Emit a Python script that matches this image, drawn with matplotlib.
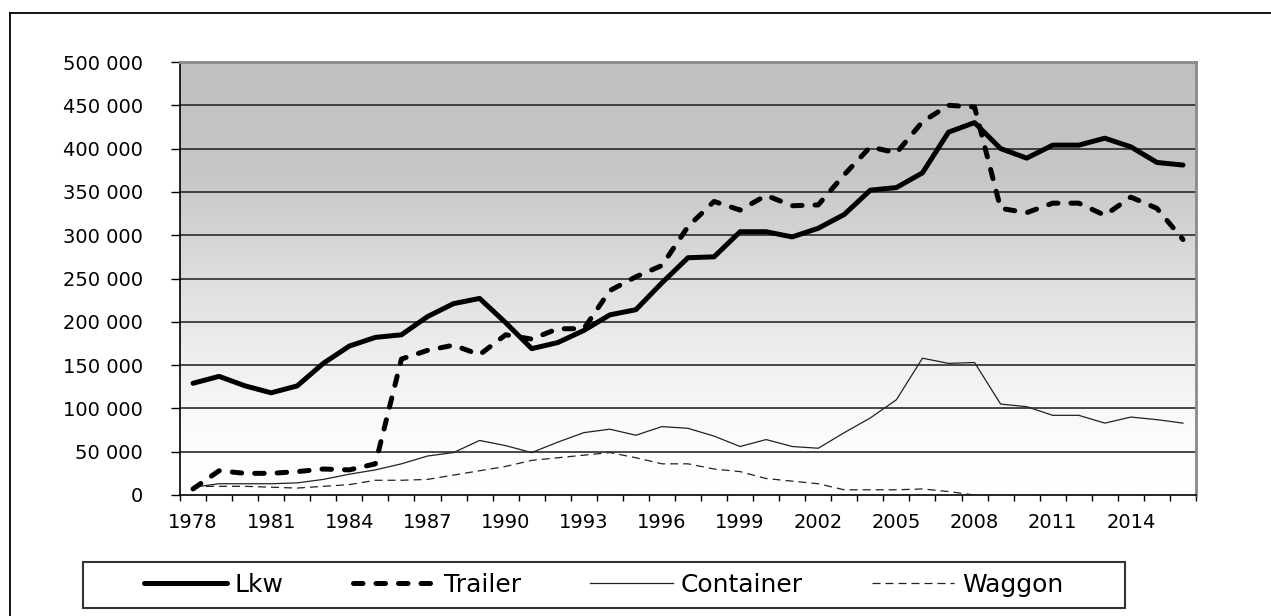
import numpy as np
import matplotlib
matplotlib.use("Agg")
import matplotlib.pyplot as plt
from matplotlib.lines import Line2D
from matplotlib.patches import Rectangle
from matplotlib.colors import LinearSegmentedColormap

# Data (values in units)
years = list(range(1978, 2017))
lkw = [129, 137, 126, 118, 126, 152, 172, 182, 185, 206, 221, 227, 199, 169, 176, 190, 208, 214, 245, 274,
       275, 304, 304, 298, 308, 324, 352, 355, 372, 419, 430, 400, 389, 404, 404, 412, 402, 384, 381]
trailer = [7, 28, 25, 25, 27, 30, 29, 36, 157, 167, 173, 162, 185, 180, 192, 192, 236, 252, 265, 310,
           339, 329, 346, 334, 335, 370, 402, 395, 431, 450, 448, 331, 326, 337, 337, 323, 344, 331, 295]
container = [9, 13, 13, 13, 14, 18, 24, 29, 36, 45, 49, 63, 57, 49, 61, 72, 76, 69, 79, 77,
             68, 56, 64, 56, 54, 72, 89, 110, 158, 152, 153, 105, 102, 92, 92, 83, 90, 87, 83]
waggon = [10, 10, 10, 9, 8, 10, 12, 17, 17, 18, 23, 28, 33, 40, 43, 46, 49, 43, 36, 36,
          30, 27, 19, 16, 13, 6, 6, 6, 7, 4, 0, None, None, None, None, None, None, None, None]
series_names = ["Lkw", "Trailer", "Container", "Waggon"]
y_ticks = list(range(0, 500001, 50000))

plt.rcParams['font.family'] = ['DejaVu Sans']

W, H = 1271, 616
fig = plt.figure(figsize=(W / 100, H / 100), dpi=100)
ax = fig.add_axes([180 / W, 1 - 495 / H, (1196 - 180) / W, (495 - 62) / H])

x = np.arange(len(years))
to_arr = lambda v: np.array([np.nan if a is None else a * 1000 for a in v], dtype=float)

# gradient background (gray top -> white bottom)
cmap = LinearSegmentedColormap.from_list(
    "bg", [(0.0, "#ffffff"), (0.12, "#fdfdfd"), (0.35, "#ececec"),
           (0.55, "#d9d9d9"), (0.75, "#c6c6c6"), (1.0, "#c0c0c0")])
grad = np.linspace(0, 1, 256).reshape(-1, 1)
ax.imshow(grad, cmap=cmap, aspect='auto', origin='lower',
          extent=[-0.5, len(years) - 0.5, 0, 500000], zorder=0)

for yv in y_ticks[1:-1]:
    ax.axhline(yv, color='#2a2a2a', lw=1.2, zorder=1)

ax.plot(x, to_arr(lkw), color='black', lw=3.6, solid_capstyle='round',
        solid_joinstyle='round', label=series_names[0], zorder=4)
ax.plot(x, to_arr(trailer), color='black', lw=3.6, linestyle=(0, (1.9, 2.6)),
        dash_capstyle='round', label=series_names[1], zorder=5)
ax.plot(x, to_arr(container), color='#222222', lw=0.9, label=series_names[2], zorder=3)
ax.plot(x, to_arr(waggon), color='#222222', lw=0.9, linestyle=(0, (6.4, 4)),
        label=series_names[3], zorder=3)

ax.set_xlim(-0.5, len(years) - 0.5)
ax.set_ylim(0, 500000)

# x: ticks on category borders, labels at centres every 3 years
ax.set_xticks(np.arange(-0.5, len(years), 1))
ax.set_xticklabels([])
ax.set_xticks(x[::3], minor=True)
ax.set_xticklabels([str(years[i]) for i in x[::3]], minor=True)
ax.tick_params(axis='x', which='major', direction='out', length=4.5, width=1, color='black')
ax.tick_params(axis='x', which='minor', length=0, pad=13, labelsize=14)

ax.set_yticks(y_ticks)
ax.set_yticklabels(["0" if v == 0 else f"{v // 1000} 000" for v in y_ticks])
ax.tick_params(axis='y', direction='out', length=6.5, width=1, pad=20, labelsize=14)

for s in ['left', 'bottom']:
    ax.spines[s].set_color('black')
    ax.spines[s].set_linewidth(1.2)
for s in ['top', 'right']:
    ax.spines[s].set_color('#8a8a8a')
    ax.spines[s].set_linewidth(2)

# outer chart frame (cut off at right/bottom)
fig.add_artist(Line2D([10 / W, 10 / W], [0, 1 - 13 / H], transform=fig.transFigure,
                      color='black', lw=1.3))
fig.add_artist(Line2D([10 / W, 1], [1 - 13 / H, 1 - 13 / H], transform=fig.transFigure,
                      color='black', lw=1.3))

# legend box
fig.add_artist(Rectangle((83 / W, 1 - 608 / H), (1125 - 83) / W, 46 / H,
                         transform=fig.transFigure, facecolor='white',
                         edgecolor='#333333', lw=1.5, zorder=1))
handles, labels = ax.get_legend_handles_labels()
leg = fig.legend(handles, labels, loc='center', bbox_to_anchor=(604 / W, 1 - 585 / H),
                 ncol=4, frameon=False, fontsize=18, handlelength=3.3,
                 handletextpad=0.32, columnspacing=2.77, borderpad=0)
leg.set_zorder(2)

fig.savefig("out.png", dpi=100, facecolor='white')
